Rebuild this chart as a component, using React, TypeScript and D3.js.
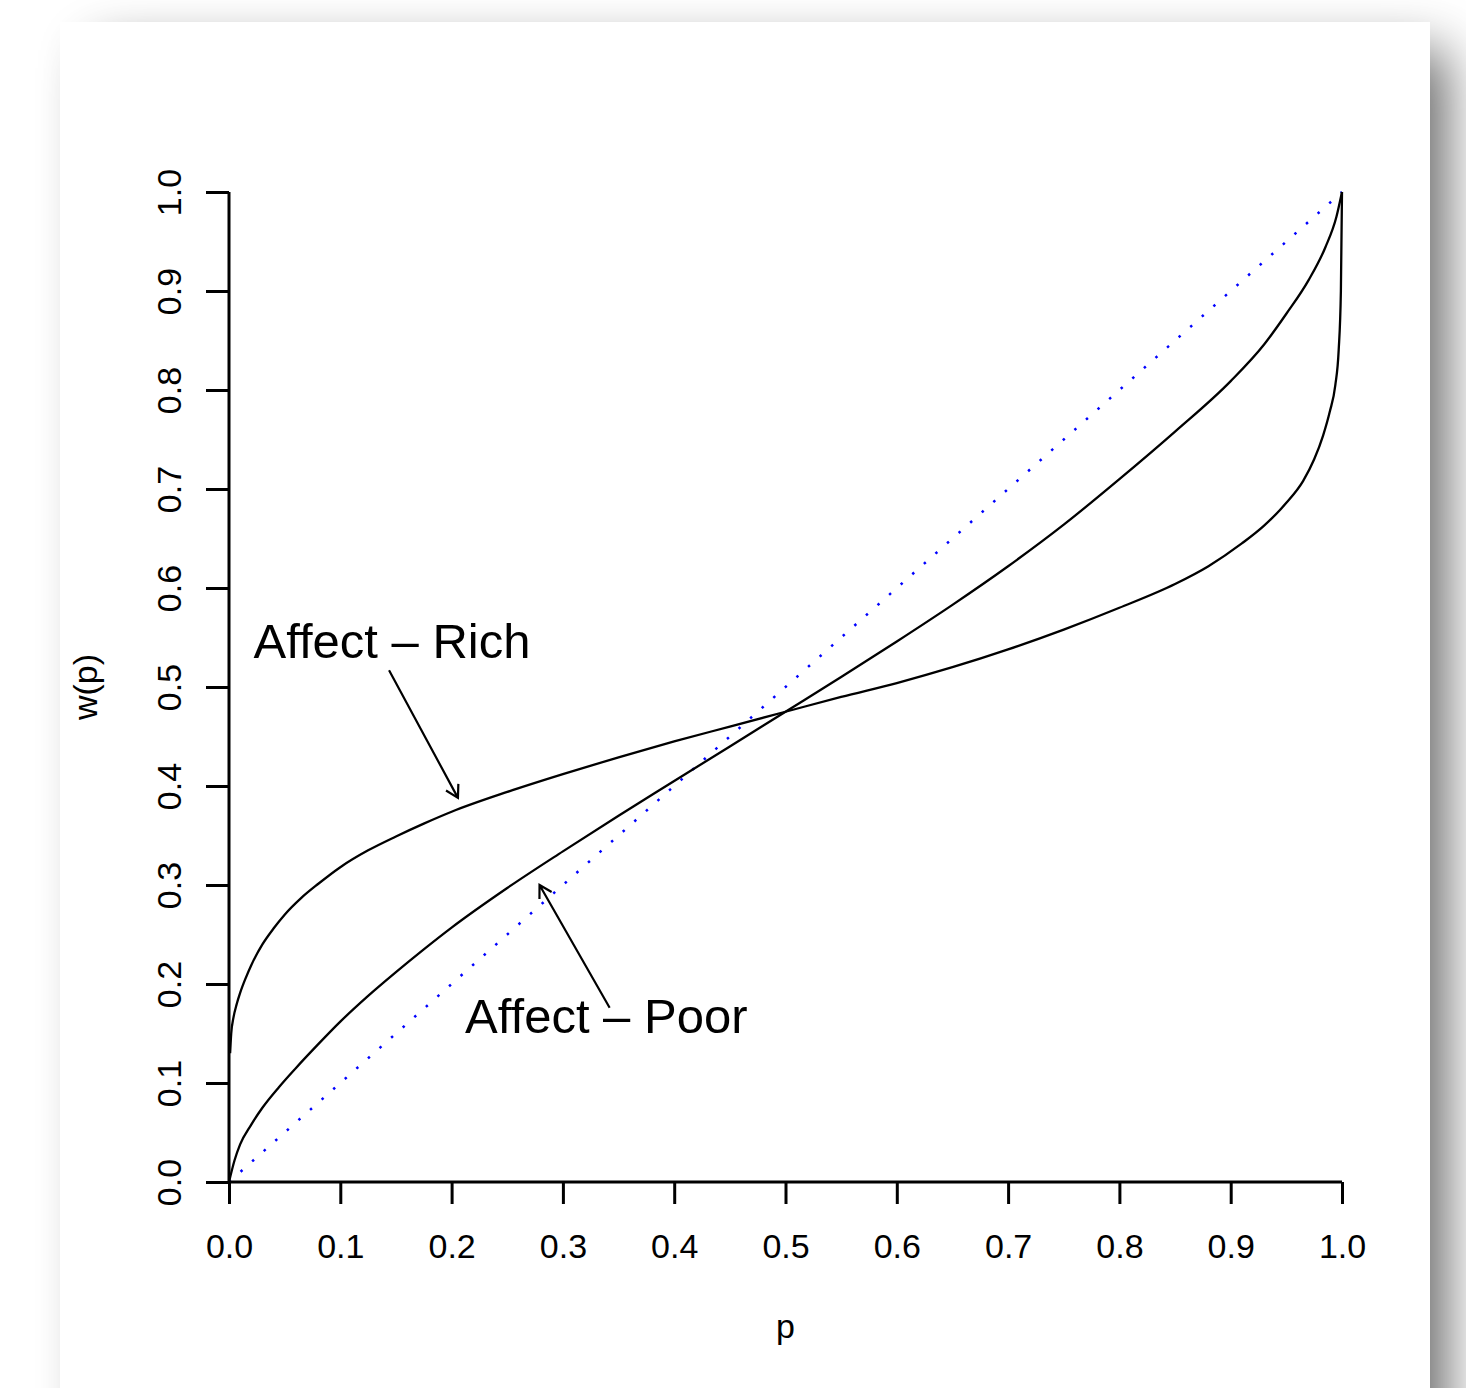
import { useRef, useEffect } from 'react'
import * as d3 from 'd3'

// values: [p, w(p)]
const richCurve: [number, number][] = [
  [0.001, 0.130], [0.002, 0.150], [0.004, 0.166], [0.007, 0.180], [0.010, 0.191],
  [0.015, 0.206], [0.020, 0.219], [0.030, 0.240], [0.040, 0.256], [0.050, 0.270],
  [0.065, 0.287], [0.080, 0.301], [0.100, 0.318], [0.125, 0.335], [0.150, 0.349],
  [0.175, 0.362], [0.200, 0.374], [0.250, 0.394], [0.300, 0.412], [0.350, 0.429],
  [0.400, 0.445], [0.450, 0.460], [0.500, 0.475], [0.550, 0.490], [0.600, 0.504],
  [0.650, 0.520], [0.700, 0.538], [0.750, 0.558], [0.800, 0.580], [0.850, 0.604],
  [0.880, 0.622], [0.910, 0.645], [0.930, 0.663], [0.950, 0.686], [0.965, 0.708],
  [0.975, 0.730], [0.983, 0.754], [0.989, 0.778], [0.994, 0.805], [0.997, 0.840],
  [0.999, 0.900], [1, 1]
]

const poorCurve: [number, number][] = [
  [0, 0], [0.005, 0.022], [0.010, 0.038], [0.020, 0.058], [0.030, 0.075],
  [0.045, 0.096], [0.060, 0.115], [0.080, 0.139], [0.100, 0.162], [0.125, 0.188],
  [0.150, 0.212], [0.175, 0.235], [0.200, 0.257], [0.250, 0.297], [0.300, 0.334],
  [0.350, 0.370], [0.400, 0.405], [0.450, 0.440], [0.500, 0.475], [0.550, 0.510],
  [0.600, 0.546], [0.650, 0.583], [0.700, 0.622], [0.750, 0.664], [0.800, 0.710],
  [0.850, 0.758], [0.900, 0.809], [0.930, 0.846], [0.950, 0.877], [0.970, 0.911],
  [0.985, 0.944], [0.995, 0.975], [1, 1]
]

const identityLine: [number, number][] = [[0, 0], [1, 1]]

const xTicks = [0, 0.1, 0.2, 0.3, 0.4, 0.5, 0.6, 0.7, 0.8, 0.9, 1.0]
const yTicks = [0, 0.1, 0.2, 0.3, 0.4, 0.5, 0.6, 0.7, 0.8, 0.9, 1.0]

// annotations: label position and arrow [from, to]
const labels = [
  { text: 'Affect \u2013 Rich', p: 0.1465, w: 0.529, from: [0.1438, 0.517], to: [0.2057, 0.388] },
  { text: 'Affect \u2013 Poor', p: 0.339, w: 0.1505, from: [0.342, 0.176], to: [0.279, 0.300] }
]

const FONT = '"Liberation Sans", Arial, sans-serif'

const App = () => {
  const ref = useRef<SVGSVGElement>(null)

  useEffect(() => {
    const totalWidth = 1466,
      totalHeight = 1388

    const svg = d3.select(ref.current)
    svg.attr('width', totalWidth).attr('height', totalHeight)
    svg.selectAll('*').remove()

    // PANEL WITH SHADOW
    const defs = svg.append('defs')
    defs.append('filter')
      .attr('id', 'blur')
      .attr('filterUnits', 'userSpaceOnUse')
      .attr('x', -200).attr('y', -200)
      .attr('width', 2000).attr('height', 2000)
      .append('feGaussianBlur')
      .attr('stdDeviation', 27)

    svg.append('rect')
      .attr('width', totalWidth).attr('height', totalHeight)
      .attr('fill', '#fff')
    svg.append('rect')
      .attr('x', 95).attr('y', 50)
      .attr('width', 1351).attr('height', 1600)
      .attr('fill', '#000').attr('opacity', 0.6)
      .attr('filter', 'url(#blur)')
    svg.append('rect')
      .attr('x', 60).attr('y', 22)
      .attr('width', 1370).attr('height', 1500)
      .attr('fill', '#fff')

    // SCALES
    const x = d3.scaleLinear().domain([0, 1]).range([229, 1342])
    const y = d3.scaleLinear().domain([0, 1]).range([1182, 192])

    const plot = svg.append('g')

    const line = d3.line<[number, number]>()
      .x(d => x(d[0]))
      .y(d => y(d[1]))

    plot.append('path')
      .datum(identityLine)
      .attr('d', line)
      .attr('fill', 'none')
      .attr('stroke', '#0000ff')
      .attr('stroke-width', 2.5)
      .attr('stroke-dasharray', '2.5 13')

    const smooth = d3.line<[number, number]>()
      .x(d => x(d[0]))
      .y(d => y(d[1]))
      .curve(d3.curveMonotoneX)

    ;[richCurve, poorCurve].forEach(c => {
      plot.append('path')
        .datum(c)
        .attr('d', smooth)
        .attr('fill', 'none')
        .attr('stroke', '#000')
        .attr('stroke-width', 2.3)
    })

    // AXES
    const xAxis = d3.axisBottom(x)
      .tickValues(xTicks)
      .tickSize(22)
      .tickPadding(10)
      .tickFormat(d3.format('.1f'))
    const gx = plot.append('g')
      .attr('transform', `translate(0, ${y(0)})`)
      .call(xAxis)
    gx.select('.domain').attr('d', `M${x(0)},0H${x(1)}`)

    const yAxis = d3.axisLeft(y)
      .tickValues(yTicks)
      .tickSize(23)
      .tickFormat(d3.format('.1f'))
    const gy = plot.append('g')
      .attr('transform', `translate(${x(0)}, 0)`)
      .call(yAxis)
    gy.select('.domain').attr('d', `M0,${y(0)}V${y(1)}`)

    ;[gx, gy].forEach(g => {
      g.selectAll('path, line').attr('stroke', '#000').attr('stroke-width', 3)
      g.selectAll('text')
        .attr('font-family', FONT)
        .attr('font-size', 34)
        .attr('fill', '#000')
    })
    gx.selectAll('text').attr('dy', null).attr('y', 76)

    gy.selectAll('.tick text')
      .attr('x', null).attr('dy', null)
      .attr('text-anchor', 'middle')
      .attr('transform', 'translate(-48, 0) rotate(-90)')

    // AXIS TITLES
    svg.append('text')
      .attr('x', x(0.5)).attr('y', 1338)
      .attr('text-anchor', 'middle')
      .attr('font-family', FONT).attr('font-size', 34)
      .text('p')
    svg.append('text')
      .attr('transform', `translate(97, ${y(0.5)}) rotate(-90)`)
      .attr('text-anchor', 'middle')
      .attr('font-family', FONT).attr('font-size', 34)
      .text('w(p)')

    // ANNOTATIONS
    labels.forEach(l => {
      svg.append('text')
        .attr('x', x(l.p)).attr('y', y(l.w))
        .attr('text-anchor', 'middle')
        .attr('font-family', FONT).attr('font-size', 49)
        .text(l.text)

      const x0 = x(l.from[0]), y0 = y(l.from[1])
      const x1 = x(l.to[0]), y1 = y(l.to[1])
      const ang = Math.atan2(y0 - y1, x0 - x1)
      const len = 14, spread = Math.PI / 6
      const wing = (a: number) => `${x1 + len * Math.cos(a)},${y1 + len * Math.sin(a)}`
      svg.append('path')
        .attr('d', `M${x0},${y0}L${x1},${y1}M${wing(ang - spread)}L${x1},${y1}L${wing(ang + spread)}`)
        .attr('fill', 'none')
        .attr('stroke', '#000')
        .attr('stroke-width', 2.2)
    })
  }, [])

  return (
    <svg ref={ref} style={{ position: 'absolute', left: 0, top: 0, display: 'block' }}></svg>
  )
}

export default App
